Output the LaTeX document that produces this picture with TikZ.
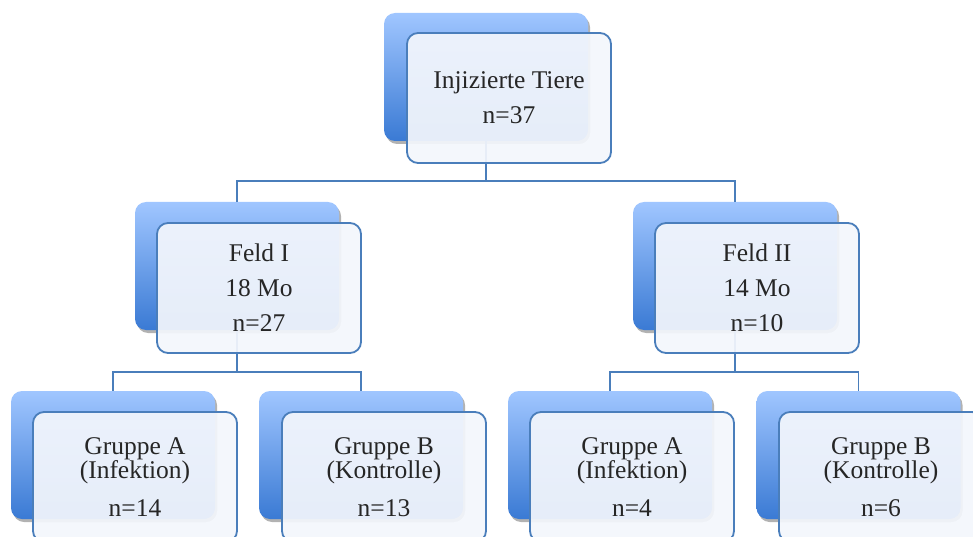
\documentclass[tikz,border=0pt]{standalone}
\usepackage{fontspec}
\setmainfont{Liberation Serif}
\usetikzlibrary{shadows}
\definecolor{lineblue}{RGB}{74,126,187}
\definecolor{topblue}{RGB}{160,198,255}
\definecolor{botblue}{RGB}{58,122,212}
\definecolor{frontfill}{RGB}{243,246,252}
\tikzset{
  backbox/.style={rounded corners=11pt, minimum width=204pt, minimum height=128pt,
    top color=topblue, bottom color=botblue, draw=none,
    drop shadow={shadow xshift=2pt, shadow yshift=-3pt, opacity=0.3, fill=black}},
  frontbox/.style={rounded corners=11pt, minimum width=204pt, minimum height=130pt,
    draw=lineblue, line width=1.8pt, fill=frontfill, fill opacity=0.93, text opacity=1,
    align=center, font=\fontsize{25.5}{35}\selectfont, text=black!85, inner sep=0pt},
  conn/.style={draw=lineblue, line width=1.6pt}
}
\begin{document}
\begin{tikzpicture}[x=1pt,y=-1pt]
\useasboundingbox (0,0) rectangle (973,537);
\begin{scope}
\clip (0,0) rectangle (973,537);
% back boxes
\node[backbox] (tb) at (486,77) {};
\node[backbox] (f1b) at (237,266) {};
\node[backbox] (f2b) at (735,266) {};
\node[backbox] (g1b) at (113,455) {};
\node[backbox] (g2b) at (361,455) {};
\node[backbox] (g3b) at (610,455) {};
\node[backbox] (g4b) at (858.5,455) {};
% connectors
\coordinate (j1) at (486,181);
\coordinate (j2) at (237,372);
\coordinate (j3) at (735,372);
\draw[conn] (tb.south) -- (j1);
\draw[conn] (j1) -| (f1b.north);
\draw[conn] (j1) -| (f2b.north);
\draw[conn] (f1b.south) -- (j2);
\draw[conn] (j2) -| (g1b.north);
\draw[conn] (j2) -| (g2b.north);
\draw[conn] (f2b.south) -- (j3);
\draw[conn] (j3) -| (g3b.north);
\draw[conn] (j3) -| (g4b.north);
% front boxes
\node[frontbox] (t) at (509,98) {Injizierte Tiere\\n=37};
\node[frontbox] (f1) at (259,288) {Feld I\\18 Mo\\n=27};
\node[frontbox] (f2) at (757,288) {Feld II\\14 Mo\\n=10};
\node[frontbox] (g1) at (135,477) {Gruppe A\\[-11pt](Infektion)\\[3pt]n=14};
\node[frontbox] (g2) at (384,477) {Gruppe B\\[-11pt](Kontrolle)\\[3pt]n=13};
\node[frontbox] (g3) at (632,477) {Gruppe A\\[-11pt](Infektion)\\[3pt]n=4};
\node[frontbox] (g4) at (881,477) {Gruppe B\\[-11pt](Kontrolle)\\[3pt]n=6};
\end{scope}
\end{tikzpicture}
\end{document}
